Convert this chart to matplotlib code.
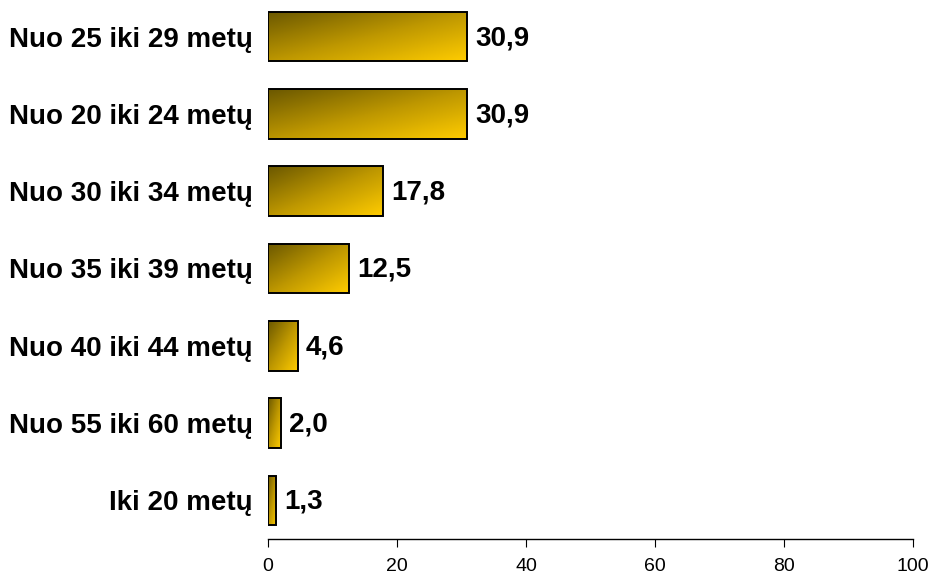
import numpy as np
import matplotlib.pyplot as plt
from matplotlib.colors import LinearSegmentedColormap

# data, top to bottom as shown
labels = ['Nuo 25 iki 29 metų', 'Nuo 20 iki 24 metų', 'Nuo 30 iki 34 metų',
          'Nuo 35 iki 39 metų', 'Nuo 40 iki 44 metų', 'Nuo 55 iki 60 metų',
          'Iki 20 metų']
values = [30.9, 30.9, 17.8, 12.5, 4.6, 2.0, 1.3]
xticks = [0, 20, 40, 60, 80, 100]

plt.rcParams['font.family'] = ['Liberation Sans', 'DejaVu Sans']

fig = plt.figure(figsize=(9.34, 5.76), dpi=100)
ax = fig.add_axes([268 / 934, 37 / 576, 645 / 934, 541 / 576])

cmap = LinearSegmentedColormap.from_list('gold', ['#6b5800', '#bc9600', '#ffcc00'])
# diagonal gradient: dark at top-left, gold at bottom-right
u = np.linspace(0, 1, 64)
grad = (u[None, :] + u[:, None]) / 2

ypos = np.arange(len(labels))[::-1]
bars = ax.barh(ypos, values, height=0.64, color='none', edgecolor='black',
               linewidth=1.4, zorder=3)
for bar, v, y in zip(bars, values, ypos):
    x0, y0 = bar.get_x(), bar.get_y()
    w, h = bar.get_width(), bar.get_height()
    im = ax.imshow(grad, cmap=cmap, aspect='auto', origin='upper',
                   extent=[x0, x0 + w, y0, y0 + h], zorder=2)
    im.set_clip_path(bar)
    ax.annotate(f'{v:.1f}'.replace('.', ','), (v, y), xytext=(6, -1),
                textcoords='offset points', va='center', ha='left',
                fontsize=20, fontweight='bold')

ax.set_xlim(0, 100)
ax.set_ylim(-0.5, len(labels) - 0.5)
ax.set_yticks(ypos)
ax.set_yticklabels(labels, fontsize=20, fontweight='bold')
ax.tick_params(axis='y', length=0, pad=11)
ax.set_xticks(xticks)
ax.tick_params(axis='x', labelsize=14, length=6, direction='out', pad=8)

for s in ['top', 'right', 'left']:
    ax.spines[s].set_visible(False)
ax.spines['bottom'].set_linewidth(1.0)

fig.savefig('out.png', dpi=100)
